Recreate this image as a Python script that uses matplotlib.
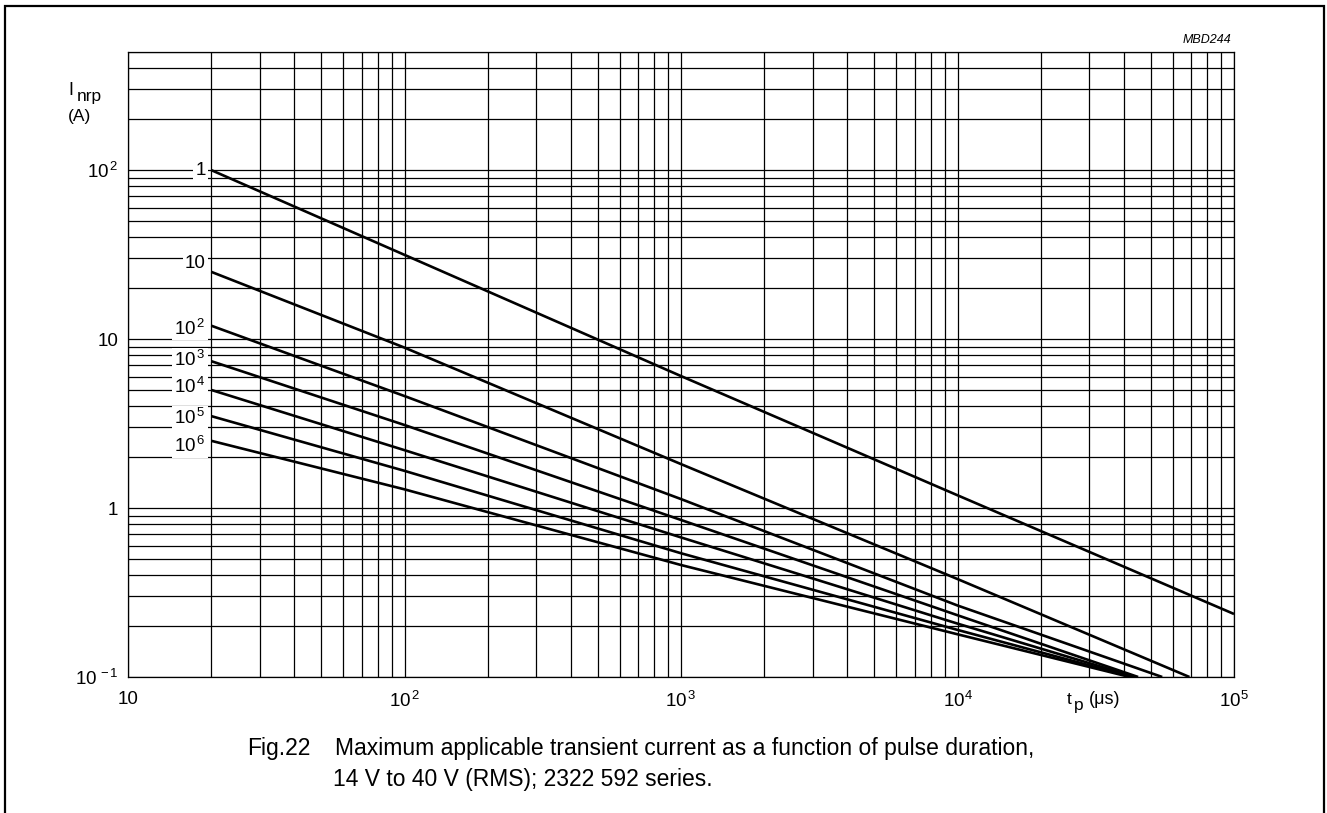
import matplotlib
matplotlib.use("Agg")
import matplotlib.pyplot as plt
from matplotlib.patches import Rectangle
from matplotlib.ticker import LogLocator, NullFormatter, FixedLocator

plt.rcParams['font.family'] = ['Liberation Sans', 'DejaVu Sans']
plt.rcParams['mathtext.fontset'] = 'custom'
plt.rcParams['mathtext.rm'] = 'Liberation Sans'
plt.rcParams['mathtext.it'] = 'Liberation Sans:italic'

# ---- data ----
curve_labels = ["1", "10", "10$^{\\,2}$", "10$^{\\,3}$", "10$^{\\,4}$", "10$^{\\,5}$", "10$^{\\,6}$"]
t_1 = [20, 100, 1000, 10000, 100000]
i_1 = [100, 31.5, 6.04, 1.19, 0.236]
t_10 = [20, 100, 1000, 10000, 69000]
i_10 = [25, 8.9, 1.82, 0.38, 0.1]
t_1e2 = [20, 100, 1000, 10000, 55000]
i_1e2 = [12, 4.6, 1.13, 0.265, 0.1]
t_1e3 = [20, 100, 1000, 10000, 45000]
i_1e3 = [7.4, 3.1, 0.85, 0.232, 0.1]
t_1e4 = [20, 100, 1000, 10000, 44000]
i_1e4 = [5.0, 2.2, 0.67, 0.207, 0.1]
t_1e5 = [20, 100, 1000, 10000, 43000]
i_1e5 = [3.5, 1.66, 0.54, 0.19, 0.1]
t_1e6 = [20, 100, 1000, 10000, 42000]
i_1e6 = [2.5, 1.29, 0.46, 0.179, 0.1]

x_ticks = [10, 100, 1000, 10000, 100000]
x_ticklabels = ["10", "10$^{\\,2}$", "10$^{\\,3}$", "10$^{4}$", "10$^{5}$"]
y_ticks = [0.1, 1, 10, 100]
y_ticklabels = ["10$^{\\,-1}$", "1", "10", "10$^{\\,2}$"]

series = [(t_1, i_1), (t_10, i_10), (t_1e2, i_1e2), (t_1e3, i_1e3),
          (t_1e4, i_1e4), (t_1e5, i_1e5), (t_1e6, i_1e6)]
# label offsets (points) relative to curve start
label_offsets = [(-4, 0), (-4, 6), (-4, -2), (-4, 1), (-4, 2), (-4, -1), (-4, -4)]

W, H = 1327, 813
fig = plt.figure(figsize=(W / 100, H / 100), dpi=100)
ax = fig.add_axes([128 / W, 1 - 677 / H, (1234 - 128) / W, (677 - 52) / H])
ax.set_xscale('log')
ax.set_yscale('log')
ax.set_xlim(10, 1e5)
ax.set_ylim(0.1, 500)

ax.xaxis.set_major_locator(FixedLocator(x_ticks))
ax.set_xticklabels(x_ticklabels)
ax.yaxis.set_major_locator(FixedLocator(y_ticks))
ax.set_yticklabels(y_ticklabels)
ax.xaxis.set_minor_locator(LogLocator(base=10, subs=range(2, 10), numticks=20))
ax.yaxis.set_minor_locator(LogLocator(base=10, subs=range(2, 10), numticks=20))
ax.xaxis.set_minor_formatter(NullFormatter())
ax.yaxis.set_minor_formatter(NullFormatter())
ax.tick_params(which='both', length=0)
ax.tick_params(axis='x', pad=10, labelsize=13.5)
ax.tick_params(axis='y', pad=7, labelsize=13.5)
ax.grid(True, which='both', color='black', linewidth=0.9)
for s in ax.spines.values():
    s.set_linewidth(0.9)

for (t, i), lab, off in zip(series, curve_labels, label_offsets):
    ax.plot(t, i, color='black', linewidth=1.9, solid_capstyle='butt', clip_on=True, zorder=3)
    ax.annotate(lab, xy=(t[0], i[0]), xytext=off, textcoords='offset points',
                ha='right', va='center', fontsize=13.5,
                bbox=dict(boxstyle='square,pad=0.1', fc='white', ec='none'), zorder=4)

# axis titles
fig.text(68 / W, 1 - 95 / H, "I", fontsize=13, ha='left', va='baseline')
fig.text(77 / W, 1 - 101 / H, "nrp", fontsize=12.5, ha='left', va='baseline')
fig.text(68 / W, 1 - 117 / H, "(A)", fontsize=12.5, ha='left', va='center')
fig.text(1067 / W, 1 - 704 / H, "t", fontsize=12.5, ha='left', va='baseline')
fig.text(1074 / W, 1 - 710 / H, "p", fontsize=12.5, ha='left', va='baseline')
fig.text(1089 / W, 1 - 704 / H, "(\u03bcs)", fontsize=13, ha='left', va='baseline')
fig.text(1231 / W, 1 - 40 / H, "MBD244", fontsize=9, style='italic', ha='right', va='center')

# caption
fig.text(247 / W, 1 - 748 / H, "Fig.22", fontsize=16.5, ha='left', va='center')
fig.text(335 / W, 1 - 748 / H, "Maximum applicable transient current as a function of pulse duration,",
         fontsize=16.5, ha='left', va='center')
fig.text(333 / W, 1 - 779 / H, "14 V to 40 V (RMS); 2322 592 series.",
         fontsize=16.5, ha='left', va='center')

# outer frame
fig.add_artist(Rectangle((5 / W, -0.1), (1324 - 5) / W, 1.1 - 6 / H, transform=fig.transFigure,
                         fill=False, ec='black', lw=1.6))

fig.savefig("out.png", dpi=100)
